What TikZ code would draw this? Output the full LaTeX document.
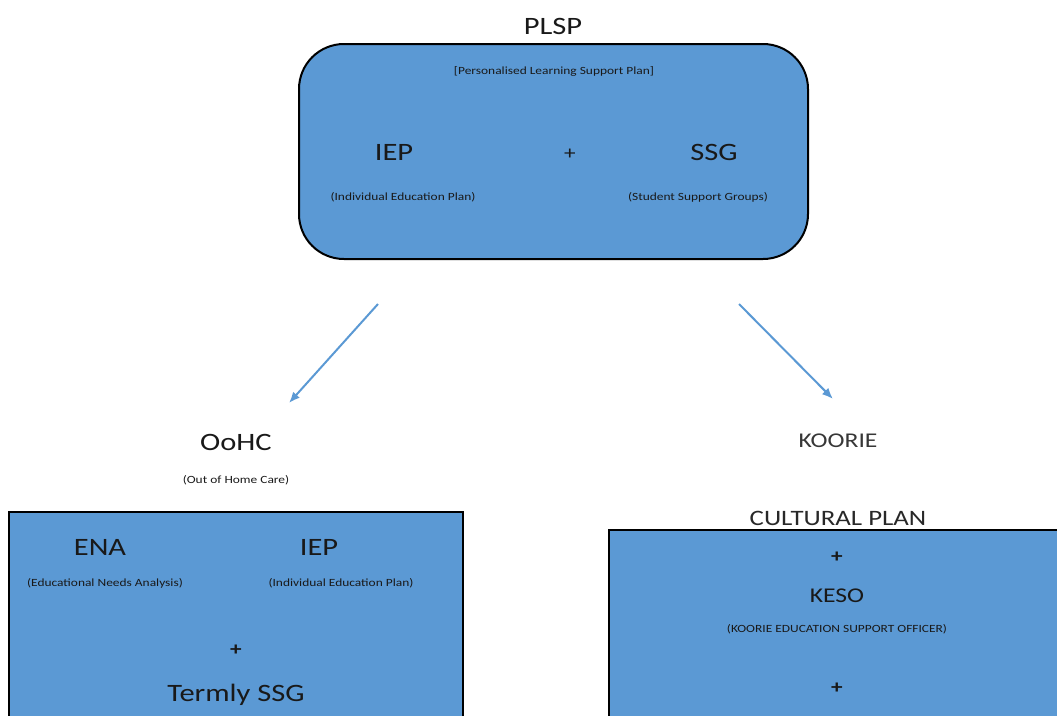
\documentclass[tikz,border=0pt]{standalone}
\usepackage{fontspec}
\setmainfont{Carlito}
\usepackage{graphicx}
\usetikzlibrary{arrows.meta}
\definecolor{boxblue}{RGB}{91,153,212}
\definecolor{txt}{RGB}{25,25,25}
\newcommand{\sx}[1]{\scalebox{1.22}[1]{#1}}
\tikzset{
  big/.style={font=\fontsize{25}{28}\selectfont, text=txt, inner sep=0pt},
  mid/.style={font=\fontsize{19}{22}\selectfont, text=txt, inner sep=0pt},
  small/.style={font=\fontsize{11}{13}\selectfont, text=txt, inner sep=0pt},
  plan/.style={draw=black, line width=2pt, fill=boxblue},
  link/.style={draw=boxblue, line width=2pt, -{Latex[length=11pt,width=9pt]}}
}
\begin{document}
\begin{tikzpicture}[x=1pt,y=-1pt]
\useasboundingbox (0,0) rectangle (1057,715);
\clip (0,0) rectangle (1057,715);
% top
\node[big] (plsp) at (553,26) {\sx{PLSP}};
\draw[plan, rounded corners=45pt] (299,44) rectangle (808,259);
\node[small] (plspfull) at (554,71) {\sx{[Personalised Learning Support Plan]}};
\node[big] (iep1) at (394,152) {\sx{IEP}};
\node[mid] (plus1) at (570,154) {\sx{+}};
\node[big] (ssg) at (714,152) {\sx{SSG}};
\node[small] (iep1f) at (403,197) {\sx{(Individual Education Plan)}};
\node[small] (ssgf) at (698,197) {\sx{(Student Support Groups)}};
% arrows
\coordinate (a1s) at (378,304);
\coordinate (a1e) at (289,403);
\coordinate (a2s) at (739,304);
\coordinate (a2e) at (833,399);
\draw[link] (a1s) -- (a1e);
\draw[link] (a2s) -- (a2e);
% left
\node[big] (oohc) at (236,442) {\sx{OoHC}};
\node[small] (oohcf) at (236,480) {\sx{(Out of Home Care)}};
\draw[plan] (9,512) rectangle (463,740);
\node[big] (ena) at (100,547) {\sx{ENA}};
\node[big] (iep2) at (319,547) {\sx{IEP}};
\node[small] (enaf) at (105,583) {\sx{(Educational Needs Analysis)}};
\node[small] (iep2f) at (341,583) {\sx{(Individual Education Plan)}};
\node[mid] (plus2) at (236,650) {\sx{\textbf{+}}};
\node[big] (termly) at (236,695) {\sx{Termly SSG}};
% right
\node[mid, font=\fontsize{21}{24}\selectfont, text={rgb,255:red,55;green,55;blue,55}] (koorie) at (838,441) {\sx{KOORIE}};
\node[mid, font=\fontsize{22}{25}\selectfont, text={rgb,255:red,40;green,40;blue,40}] (cult) at (838,518) {\sx{CULTURAL PLAN}};
\draw[plan] (609,530) rectangle (1080,740);
\node[mid] (plus3) at (837,557) {\sx{\textbf{+}}};
\node[mid, font=\fontsize{21}{24}\selectfont] (keso) at (837,596) {\sx{KESO}};
\node[small] (kesof) at (837,629) {\sx{(KOORIE EDUCATION SUPPORT OFFICER)}};
\node[mid] (plus4) at (837,688) {\sx{\textbf{+}}};
\end{tikzpicture}
\end{document}
